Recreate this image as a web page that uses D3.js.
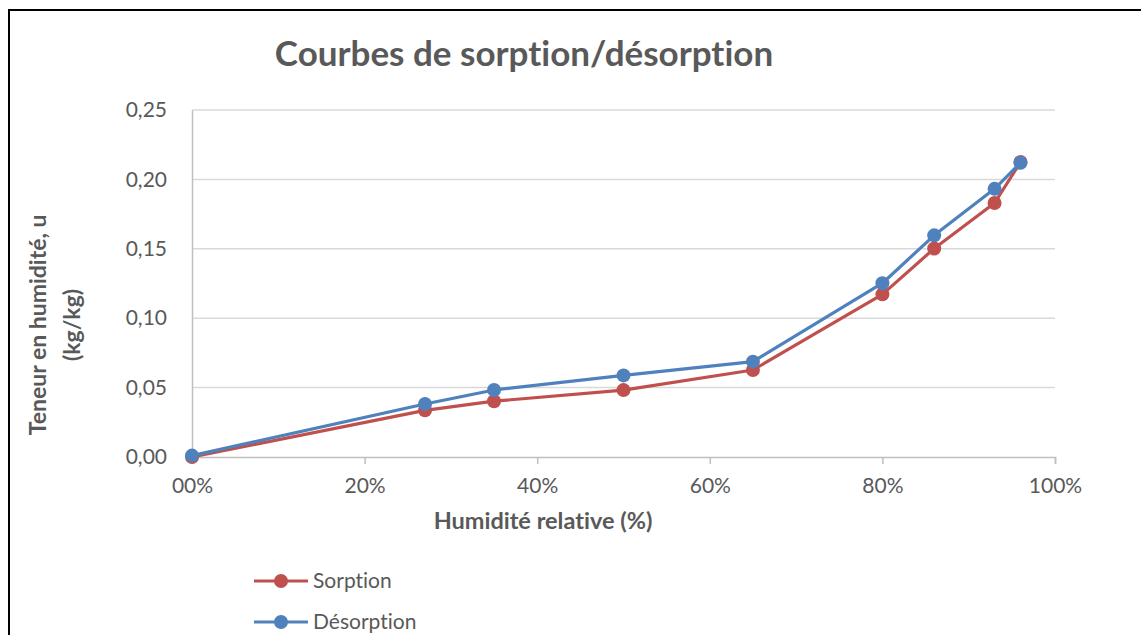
<!DOCTYPE html>
<html>
<head>
<meta charset="utf-8">
<script src="https://cdn.jsdelivr.net/npm/d3@7"></script>
<style>
  body { margin: 0; background: white; }
  text { font-family: Lato, "Open Sans", sans-serif; fill: #595959; font-variant-ligatures: none; }
</style>
</head>
<body>
<div id="chart"></div>
<script>
// humidite relative (%)
const HUMIDITY = [0, 27, 35, 50, 65, 80, 86, 93, 96];
// teneur en humidite (kg/kg)
const SORPTION   = [0.000, 0.0336, 0.0402, 0.0482, 0.0627, 0.1172, 0.1502, 0.1830, 0.2125];
const DESORPTION = [0.001, 0.0382, 0.0483, 0.0588, 0.0687, 0.1252, 0.1597, 0.1932, 0.2120];

const SERIES_NAMES = ["Sorption", "Désorption"];
const SERIES_COLORS = ["#C0504D", "#4F81BD"];

const Y_TICKS = [0, 0.05, 0.10, 0.15, 0.20, 0.25];
const X_TICKS = [0, 20, 40, 60, 80, 100];
const X_TICK_LABELS = ["00%", "20%", "40%", "60%", "80%", "100%"];

var width = 1141, height = 635;
var plot = {left: 192, right: 1055, top: 110, bottom: 457};

var svg = d3.select("#chart")
  .append("svg")
  .attr("width", width)
  .attr("height", height);

// frame of the chart (cut on the right and bottom)
svg.append("path")
  .attr("d", "M9," + (height + 5) + " V10 H" + (width + 5))
  .attr("fill", "none")
  .attr("stroke", "#000")
  .attr("stroke-width", 2);

var x = d3.scaleLinear().domain([0, 100]).range([plot.left, plot.right]);
var y = d3.scaleLinear().domain([0, 0.25]).range([plot.bottom, plot.top]);

// gridlines
svg.append("g")
  .selectAll("line")
  .data(Y_TICKS.slice(1))
  .enter()
  .append("line")
  .attr("x1", plot.left)
  .attr("x2", plot.right)
  .attr("y1", function(d) { return y(d); })
  .attr("y2", function(d) { return y(d); })
  .attr("stroke", "#D9D9D9")
  .attr("stroke-width", 1.5);

// y axis
var yAxis = svg.append("g")
  .attr("transform", "translate(" + plot.left + ",0)")
  .call(d3.axisLeft(y)
    .tickValues(Y_TICKS)
    .tickSize(0)
    .tickPadding(25)
    .tickFormat(function(d) { return d3.format(".2f")(d).replace(".", ","); }));

yAxis.select(".domain").attr("stroke", "#BFBFBF").attr("stroke-width", 1.5);
yAxis.selectAll("text")
  .style("font-size", "21px")
  .attr("fill", "#595959")
  .attr("font-family", null);

// x axis
var xAxis = svg.append("g")
  .attr("transform", "translate(0," + plot.bottom + ")")
  .call(d3.axisBottom(x)
    .tickValues(X_TICKS)
    .tickSize(7)
    .tickSizeOuter(7)
    .tickPadding(14)
    .tickFormat(function(d, i) { return X_TICK_LABELS[i]; }));

xAxis.select(".domain").attr("stroke", "#BFBFBF").attr("stroke-width", 1.5);
xAxis.selectAll(".tick line").attr("stroke", "#BFBFBF").attr("stroke-width", 1.5);
xAxis.selectAll(".tick").filter(function(d) { return d === 0; }).select("line").remove();
xAxis.selectAll("text")
  .style("font-size", "21px")
  .attr("fill", "#595959")
  .attr("font-family", null);

// series
var series = [SORPTION, DESORPTION];

var line = d3.line()
  .x(function(d, i) { return x(HUMIDITY[i]); })
  .y(function(d) { return y(d); });

series.forEach(function(values, s) {
  var g = svg.append("g");

  g.append("path")
    .datum(values)
    .attr("d", line)
    .attr("fill", "none")
    .attr("stroke", SERIES_COLORS[s])
    .attr("stroke-width", 3.2)
    .attr("stroke-linejoin", "round");

  g.selectAll("circle")
    .data(values)
    .enter()
    .append("circle")
    .attr("cx", function(d, i) { return x(HUMIDITY[i]); })
    .attr("cy", function(d) { return y(d); })
    .attr("r", 7)
    .attr("fill", SERIES_COLORS[s]);
});

// title
svg.append("text")
  .text("Courbes de sorption/désorption")
  .attr("x", 524)
  .attr("y", 66)
  .attr("text-anchor", "middle")
  .style("font-size", "35px")
  .style("font-weight", "bold");

// axis titles
svg.append("text")
  .text("Humidité relative (%)")
  .attr("x", 543)
  .attr("y", 529)
  .attr("text-anchor", "middle")
  .style("font-size", "23.5px")
  .style("font-weight", "bold");

var yTitle = svg.append("text")
  .attr("transform", "translate(46,325) rotate(-90)")
  .attr("text-anchor", "middle")
  .style("font-size", "23px")
  .style("font-weight", "bold");

yTitle.append("tspan").attr("x", 0).attr("y", 0).text("Teneur en humidité, u");
yTitle.append("tspan").attr("x", 0).attr("y", 34).text("(kg/kg)");

// legend
var legend = svg.append("g")
  .selectAll("g")
  .data(SERIES_NAMES)
  .enter()
  .append("g")
  .attr("transform", function(d, i) { return "translate(254," + (581 + i * 41) + ")"; });

legend.append("line")
  .attr("x1", 0)
  .attr("x2", 54)
  .attr("stroke", function(d, i) { return SERIES_COLORS[i]; })
  .attr("stroke-width", 3.2);

legend.append("circle")
  .attr("cx", 27)
  .attr("r", 7)
  .attr("fill", function(d, i) { return SERIES_COLORS[i]; });

legend.append("text")
  .text(function(d) { return d; })
  .attr("x", 59)
  .attr("dy", "0.35em")
  .style("font-size", "21px");
</script>
</body>
</html>
